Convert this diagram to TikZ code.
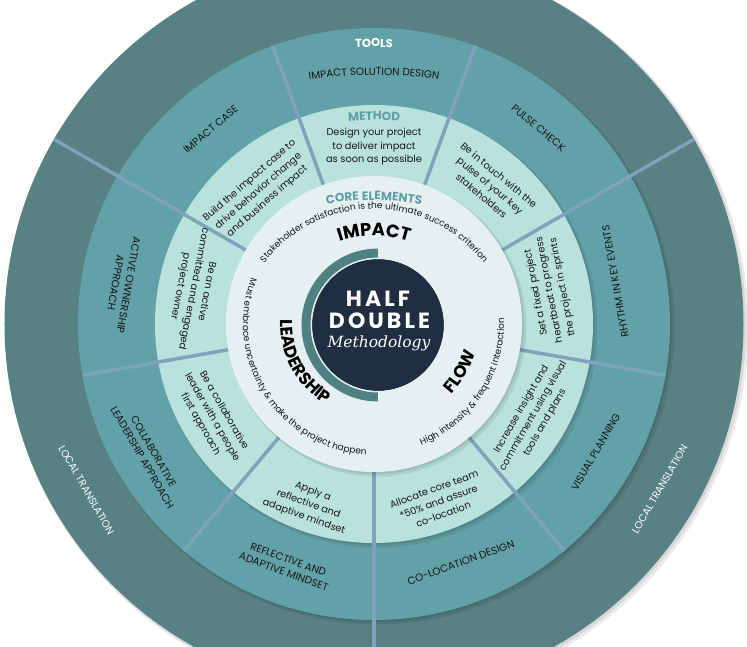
\documentclass[tikz,border=0pt]{standalone}
\usepackage{fontspec}
\setmainfont{Poppins}
\newfontfamily\heavyfont{Poppins}
\newfontfamily\serifit{DejaVu Serif}
\usetikzlibrary{decorations.text}

\definecolor{outerteal}{HTML}{578182}
\definecolor{toolteal}{HTML}{62A1A7}
\definecolor{methodmint}{HTML}{B9E2DC}
\definecolor{corepale}{HTML}{E6F0F1}
\definecolor{navy}{HTML}{1F2E40}
\definecolor{arcteal}{HTML}{4F8183}
\definecolor{divider}{HTML}{7FA3BB}
\definecolor{headteal}{HTML}{5E9FA6}
\definecolor{inktext}{HTML}{161616}

\tikzset{
  ringshadow/.style={fill=black, opacity=0.08},
  divline/.style={draw=divider, line width=3.5pt},
}

\begin{document}
\begin{tikzpicture}[x=1pt, y=1pt,
    toollabel/.style={font=\fontsize{10.4}{13}\selectfont, text=inktext, align=center, inner sep=0pt},
    methodtext/.style={font=\fontsize{9.8}{13.5}\selectfont, text=inktext, align=center, inner sep=0pt},
    bandlabel/.style={font=\fontsize{10.2}{12}\selectfont, text=white, inner sep=0pt},
    centretext/.style={text=white, inner sep=0pt}]
    \useasboundingbox[fill=white] (-374,-323) rectangle (373,324);

    % rings, outside in
    \fill[ringshadow] (3,-3) circle (371.5);
    \fill[ringshadow] (1.5,-1.5) circle (370.5);
    \fill[outerteal] (0,0) circle (369.5);
    \fill[ringshadow] (3,-3) circle (297.5);
    \fill[ringshadow] (1.5,-1.5) circle (296.5);
    \fill[toolteal] (0,0) circle (296);
    \fill[ringshadow] (3,-3) circle (220.5);
    \fill[ringshadow] (1.5,-1.5) circle (219.5);
    \fill[methodmint] (0,0) circle (219);

    % dividers
    \draw[divline] (110:140) -- (110:296);
    \draw[divline] (70:140) -- (70:296);
    \draw[divline] (30:140) -- (30:369.5);
    \draw[divline] (-10:140) -- (-10:296);
    \draw[divline] (-50:140) -- (-50:296);
    \draw[divline] (-90:140) -- (-90:369.5);
    \draw[divline] (-130:140) -- (-130:296);
    \draw[divline] (190:140) -- (190:296);
    \draw[divline] (150:140) -- (150:369.5);

    \fill[ringshadow] (3,-3) circle (149.5);
    \fill[ringshadow] (1.5,-1.5) circle (148.5);
    \fill[corepale] (0,0) circle (148);

    % centre
    \fill[arcteal] (4,-1) ++(90:76.5) arc[start angle=90, end angle=270, radius=76.5]
        -- ++(0,9) arc[start angle=270, end angle=90, radius=67.5] -- cycle;
    \fill[navy] (4,-1) circle (66);
    \draw[corepale, line width=0.8pt] (4,-1) circle (66.4);
    \node[centretext, font=\heavyfont\bfseries\fontsize{22}{24}\selectfont\addfontfeatures{LetterSpace=14}] (half) at (4,25.5) {HALF};
    \node[centretext, font=\heavyfont\bfseries\fontsize{22}{24}\selectfont\addfontfeatures{LetterSpace=14}] (double) at (5.5,3) {DOUBLE};
    \node[centretext, font=\serifit\itshape\fontsize{15.5}{17}\selectfont] (methodology) at (5,-19) {Methodology};

    % core elements
    \path[decorate, decoration={text along path, text align=center,
        text={|\heavyfont\bfseries\fontsize{12}{14}\selectfont\addfontfeatures{LetterSpace=3}\color{headteal}|CORE ELEMENTS}}]
        [shift={(0,-126)}] (110:250) arc[start angle=110, end angle=70, radius=250];
    \path[decorate, decoration={text along path, text align=center,
        text={|\fontsize{9}{11}\selectfont\color{inktext}|Stakeholder satisfaction is the ultimate success criterion}}]
        [shift={(0,-23)}] (150:138) arc[start angle=150, end angle=30, radius=138];
    \path[decorate, decoration={text along path, text align=center,
        text={|\heavyfont\bfseries\fontsize{18}{20}\selectfont\color{black}|IMPACT}}]
        [shift={(0,-20)}] (125:108) arc[start angle=125, end angle=55, radius=108];
    \path[decorate, decoration={text along path, text align=center,
        text={|\heavyfont\bfseries\fontsize{17}{19}\selectfont\color{black}|LEADERSHIP}}]
        (158:93.5) arc[start angle=158, end angle=258, radius=93.5];
    \path[decorate, decoration={text along path, text align=center,
        text={|\heavyfont\bfseries\fontsize{17}{19}\selectfont\color{black}|FLOW}}]
        (-75:105) arc[start angle=-75, end angle=17, radius=105];
    \path[decorate, decoration={text along path, text align=center,
        text={|\fontsize{9}{11}\selectfont\color{inktext}|Must embrace uncertainty {\&} make the project happen}}]
        (150:131) arc[start angle=150, end angle=276, radius=131];
    \path[decorate, decoration={text along path, text align=center,
        text={|\fontsize{9}{11}\selectfont\color{inktext}|High intensity {\&} frequent interaction}}]
        (278:130) arc[start angle=278, end angle=376, radius=130];

    % method ring
    \path[decorate, decoration={text along path, text align=center,
        text={|\heavyfont\bfseries\fontsize{12}{14}\selectfont\addfontfeatures{LetterSpace=3}\color{headteal}|METHOD}}]
        [shift={(0,-96)}] (105:300) arc[start angle=105, end angle=75, radius=300];
    \node[methodtext] (design) at (0,177) {Design your project\\to deliver impact\\as soon as possible};
    \node[methodtext, rotate=-40] (touch) at (50:181) {Be in touch with the\\pulse of your key\\stakeholders};
    \node[methodtext, rotate=101] (heartbeat) at (11:179) {Set a fixed project\\heartbeat to progress\\the project in sprints};
    \node[methodtext, rotate=60] (insight) at (-30:184) {Increase insight and\\commitment using visual\\tools and plans};
    \node[methodtext, rotate=20] (allocate) at (-70:189) {Allocate core team\\*50\% and assure\\co-location};
    \node[methodtext, rotate=-20] (apply) at (250:192) {Apply a\\reflective and\\adaptive mindset};
    \node[methodtext, rotate=-60] (collab) at (210:187) {Be a collaborative\\leader with a people\\first approach};
    \node[methodtext, rotate=-101] (owner) at (169:184) {Be an active\\committed and engaged\\project owner};
    \node[methodtext, rotate=41] (build) at (131:176) {Build the impact case to\\drive behavior change\\and business impact};

    % tools ring
    \path[decorate, decoration={text along path, text align=center,
        text={|\heavyfont\bfseries\fontsize{11.5}{13}\selectfont\addfontfeatures{LetterSpace=5}\color{white}|TOOLS}}]
        [shift={(0,-123)}] (100:400) arc[start angle=100, end angle=80, radius=400];
    \path[decorate, decoration={text along path, text align=center,
        text={|\fontsize{10.4}{12}\selectfont\color{inktext}|IMPACT SOLUTION DESIGN}}]
        [shift={(0,-200)}] (105:449) arc[start angle=105, end angle=75, radius=449];
    \node[toollabel, rotate=40] (impactcase) at (130:254) {IMPACT CASE};
    \node[toollabel, rotate=-40] (pulsecheck) at (50:256) {PULSE CHECK};
    \node[toollabel, rotate=100] (rhythm) at (10:245) {RHYTHM IN KEY EVENTS};
    \node[toollabel, rotate=60] (visual) at (-30:256) {VISUAL PLANNING};
    \node[toollabel, rotate=20] (colocation) at (-70:254) {CO-LOCATION DESIGN};
    \node[toollabel, rotate=-20] (reflective) at (250:257) {REFLECTIVE AND\\ADAPTIVE MINDSET};
    \node[toollabel, rotate=-60] (leadership) at (210:261) {COLLABORATIVE\\LEADERSHIP APPROACH};
    \node[toollabel, rotate=-100] (ownership) at (171:255) {ACTIVE OWNERSHIP\\APPROACH};

    % outer ring
    \node[bandlabel, rotate=-60] (localleft) at (210:332) {LOCAL TRANSLATION};
    \node[bandlabel, rotate=60] (localright) at (330:330) {LOCAL TRANSLATION};
\end{tikzpicture}
\end{document}
